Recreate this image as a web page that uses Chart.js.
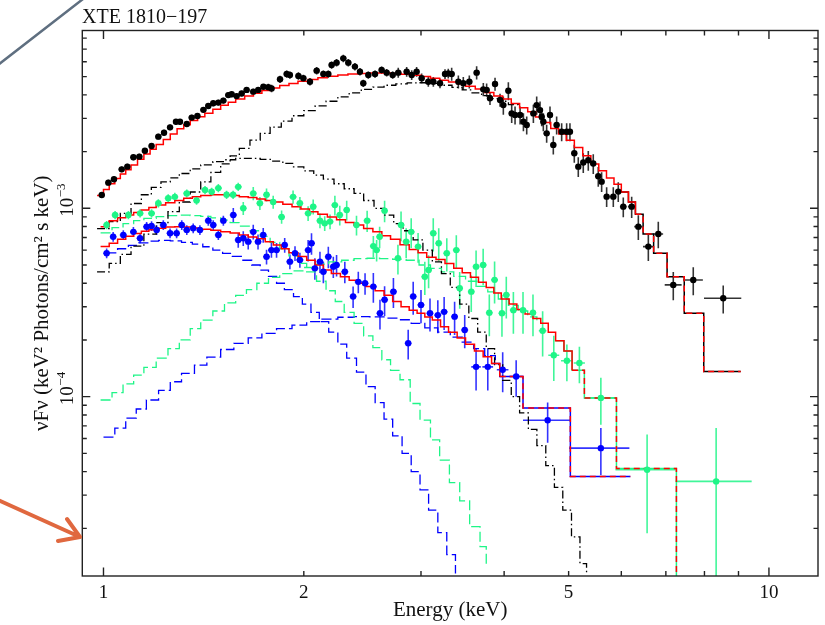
<!DOCTYPE html>
<html><head><meta charset="utf-8">
<script src="https://cdn.jsdelivr.net/npm/chart.js@4.4.1/dist/chart.umd.min.js"></script>
<style>html,body{margin:0;padding:0;background:#fff;}canvas{display:block;}</style>
</head><body>
<canvas id="c" width="825" height="625" style="width:825px;height:625px"></canvas>
<script>
// ---------------- data ----------------
const chartTitle = 'XTE 1810\u2212197';
const xTitle = 'Energy (keV)';
const yTitle = '\u03bdF\u03bd (keV\u00b2 Photons/cm\u00b2 s keV)';
const xTickValues = [1,2,3,4,5,6,7,8,9,10];
const xMajorValues = [1,10];
const xLabelValues = [1,2,5,10];
const xLabelTexts = ['1','2','5','10'];
const yTickValues = [2e-5,3e-5,4e-5,5e-5,6e-5,7e-5,8e-5,9e-5,1e-4,2e-4,3e-4,4e-4,5e-4,6e-4,7e-4,8e-4,9e-4,1e-3,2e-3,3e-3,4e-3,5e-3,6e-3,7e-3,8e-3];
const yMajorValues = [1e-4,1e-3];
const yLabelValues = [1e-4,1e-3];
const yLabelBase = '10';
const yLabelExps = ['\u22124','\u22123'];

// black data: energy, nuFnu, fractional error, energy half width
const blackE = [0.994,1.017,1.037,1.065,1.086,1.109,1.132,1.154,1.181,1.209,
1.233,1.259,1.285,1.303,1.334,1.357,1.384,1.413,1.437,1.462,
1.488,1.514,1.540,1.558,1.585,1.613,1.641,1.679,1.708,1.739,
1.769,1.789,1.842,1.885,1.906,1.963,1.997,2.043,2.091,2.140,
2.177,2.202,2.240,2.293,2.333,2.387,2.429,2.457,2.500,2.559,
2.618,2.664,2.720,
2.773,2.855,2.905,2.955,3.007,3.077,3.131,3.204,3.260,3.297,
3.336,3.414,3.473,3.546,3.637,3.722,3.765,3.809,3.876,3.944,
3.989,4.059,4.106,4.154,4.227,4.276,4.325,4.426,4.477,4.529,
4.555,4.581,4.634,4.688,4.742,4.797,4.881,4.966,5.023,5.099,
5.170,5.260,5.352,5.445,5.540,5.605,5.703,5.836,5.937,6.041,
6.219,6.364,6.588,6.819,7.182,7.696,8.537];
const blackF = [1.177e-3,1.368e-3,1.425e-3,1.61e-3,1.664e-3,1.865e-3,1.88e-3,2.02e-3,2.14e-3,2.40e-3,
2.52e-3,2.69e-3,2.88e-3,2.88e-3,2.80e-3,3.03e-3,3.09e-3,3.33e-3,3.49e-3,3.61e-3,
3.64e-3,3.73e-3,3.99e-3,4.03e-3,3.94e-3,4.07e-3,4.25e-3,4.16e-3,4.25e-3,4.42e-3,
4.39e-3,4.33e-3,4.84e-3,5.16e-3,5.10e-3,5.04e-3,4.90e-3,4.70e-3,5.38e-3,5.16e-3,
5.16e-3,5.76e-3,5.93e-3,6.25e-3,5.93e-3,5.65e-3,5.31e-3,4.61e-3,5.10e-3,5.16e-3,
5.42e-3,5.25e-3,5.10e-3,
5.25e-3,5.31e-3,5.10e-3,5.31e-3,4.90e-3,4.70e-3,4.70e-3,4.61e-3,5.16e-3,5.20e-3,
5.16e-3,4.70e-3,4.61e-3,4.70e-3,5.25e-3,4.28e-3,4.25e-3,3.84e-3,4.57e-3,3.76e-3,
3.53e-3,4.21e-3,3.19e-3,3.13e-3,3.13e-3,2.88e-3,2.77e-3,3.19e-3,3.53e-3,3.32e-3,
3.06e-3,2.88e-3,2.50e-3,3.13e-3,2.17e-3,2.77e-3,2.55e-3,2.55e-3,2.55e-3,1.96e-3,
1.664e-3,1.75e-3,1.80e-3,1.73e-3,1.48e-3,1.385e-3,1.153e-3,1.153e-3,1.226e-3,1.02e-3,
1.02e-3,7.99e-4,6.26e-4,7.31e-4,3.92e-4,4.16e-4,3.33e-4];
const blackErr = [0.035,0.035,0.035,0.035,0.035,0.035,0.035,0.035,0.035,0.035,
0.035,0.035,0.035,0.035,0.035,0.035,0.035,0.035,0.035,0.035,
0.035,0.035,0.035,0.035,0.035,0.035,0.035,0.035,0.035,0.035,
0.045,0.045,0.045,0.045,0.045,0.045,0.045,0.045,0.045,0.045,
0.045,0.045,0.045,0.045,0.045,0.045,0.045,0.045,0.045,0.045,
0.045,0.045,0.045,
0.06,0.06,0.06,0.06,0.06,0.06,0.06,0.06,0.06,0.06,
0.08,0.08,0.08,0.08,0.08,0.08,0.08,0.08,0.08,0.08,
0.11,0.11,0.11,0.11,0.11,0.11,0.11,0.11,0.11,0.11,
0.11,0.11,0.11,0.11,0.11,0.11,0.11,0.11,0.11,0.11,
0.12,0.12,0.12,0.12,0.12,0.12,0.12,0.12,0.12,0.12,
0.13,0.15,0.16,0.16,0.17,0.17,0.17];
const blackXErr = [0.011,0.011,0.011,0.011,0.011,0.012,0.012,0.012,0.012,0.013,
0.013,0.013,0.013,0.013,0.014,0.014,0.014,0.015,0.015,0.015,
0.015,0.016,0.016,0.016,0.016,0.017,0.017,0.017,0.018,0.018,
0.018,0.018,0.02,0.02,0.02,0.02,0.02,0.022,0.022,0.022,
0.022,0.023,0.023,0.024,0.024,0.025,0.025,0.025,0.026,0.026,
0.027,0.027,0.028,
0.03,0.03,0.03,0.03,0.03,0.032,0.032,0.032,0.033,0.034,
0.034,0.035,0.035,0.036,0.037,0.038,0.038,0.039,0.04,0.04,
0.04,0.041,0.042,0.042,0.043,0.044,0.044,0.045,0.046,0.046,
0.046,0.046,0.047,0.048,0.048,0.049,0.05,0.05,0.05,0.052,
0.045,0.045,0.045,0.05,0.05,0.05,0.055,0.06,0.06,0.07,
0.08,0.09,0.12,0.115,0.21,0.26,0.55];

const greenE = [1.011,1.041,1.09,1.135,1.181,1.209,1.251,1.28,1.334,1.38,
1.421,1.454,1.488,1.531,1.566,1.594,1.622,1.679,1.718,1.758,
1.799,1.852,1.927,1.973,2.03,2.066,2.115,2.15,2.19,2.227,
2.265,2.32,2.40,2.49,2.544,2.573,2.60,2.645,2.77,2.80,
2.85,2.90,2.97,3.04,3.08,3.13,3.19,3.28,3.39,3.43,
3.57,3.63,3.72,3.80,3.87,3.97,4.03,4.13,4.27,4.42,
4.57,4.75,4.97,5.19,5.59,6.56,8.33];
const greenF = [8.15e-4,9.22e-4,9.22e-4,9.4e-4,9.4e-4,1.063e-3,1.13e-3,1.15e-3,1.2e-3,1.1e-3,
1.25e-3,1.225e-3,1.28e-3,1.18e-3,1.18e-3,1.30e-3,1.0e-3,1.2e-3,1.063e-3,1.18e-3,
1.08e-3,9.0e-4,1.15e-3,1.063e-3,9.4e-4,1.02e-3,8.6e-4,8.32e-4,8.5e-4,1.04e-3,
9.22e-4,9.8e-4,8.15e-4,8.6e-4,6.3e-4,6.0e-4,7.06e-4,9.7e-4,5.43e-4,8.15e-4,
6.65e-4,7.5e-4,6.26e-4,4.33e-4,4.7e-4,7.37e-4,6.52e-4,5.77e-4,6.0e-4,3.76e-4,
3.61e-4,4.9e-4,5.0e-4,2.79e-4,4.17e-4,2.77e-4,3.47e-4,2.88e-4,2.88e-4,2.79e-4,
2.24e-4,1.66e-4,1.55e-4,1.51e-4,9.85e-5,4.09e-5,3.55e-5];
const greenErr = [0.05,0.05,0.05,0.05,0.05,0.05,0.05,0.05,0.05,0.05,
0.05,0.05,0.05,0.05,0.05,0.05,0.08,0.08,0.08,0.08,
0.08,0.08,0.08,0.08,0.09,0.09,0.09,0.09,0.09,0.12,
0.12,0.12,0.12,0.13,0.13,0.13,0.13,0.13,0.18,0.18,
0.18,0.18,0.18,0.2,0.2,0.2,0.2,0.2,0.2,0.22,
0.22,0.22,0.22,0.25,0.25,0.25,0.25,0.25,0.25,0.25,
0.27,0.27,0.22,0.22,0.28,0.54,0.92];
const greenXErr = [0.012,0.012,0.013,0.013,0.014,0.014,0.015,0.015,0.016,0.016,
0.017,0.017,0.018,0.018,0.019,0.019,0.019,0.02,0.02,0.021,
0.021,0.022,0.023,0.023,0.024,0.024,0.025,0.025,0.026,0.026,
0.027,0.027,0.028,0.03,0.03,0.03,0.03,0.03,0.033,0.033,
0.034,0.034,0.035,0.036,0.036,0.037,0.038,0.039,0.04,0.04,
0.042,0.043,0.044,0.045,0.046,0.047,0.048,0.05,0.05,0.05,
0.06,0.09,0.1,0.1,0.31,0.68,1.09];

const blueE = [1.011,1.034,1.071,1.109,1.135,1.161,1.181,1.202,1.23,1.259,
1.288,1.311,1.334,1.364,1.396,1.437,1.462,1.488,1.514,1.567,
1.594,1.622,1.65,1.679,1.707,1.738,1.758,1.788,1.82,1.872,
1.906,1.94,1.973,2.03,2.054,2.078,2.115,2.14,2.177,2.215,
2.24,2.305,2.372,2.415,2.472,2.544,2.603,2.645,2.727,2.87,
2.92,3.0,3.095,3.18,3.25,3.37,3.49,3.63,3.78,3.98,
4.17,4.65,5.59];
const blueF = [5.77e-4,7.06e-4,7.22e-4,7.5e-4,6.93e-4,7.98e-4,8.05e-4,7.67e-4,8.15e-4,7.37e-4,
7.37e-4,8.15e-4,7.67e-4,7.83e-4,7.67e-4,8.6e-4,8.15e-4,7.22e-4,8.6e-4,9.22e-4,
6.79e-4,6.93e-4,6.65e-4,7.5e-4,6.65e-4,7.22e-4,5.53e-4,6.0e-4,6.0e-4,6.38e-4,
5.21e-4,5.77e-4,5.32e-4,6.0e-4,6.52e-4,4.8e-4,5.21e-4,4.6e-4,5.53e-4,4.9e-4,
5.0e-4,4.6e-4,3.4e-4,4.07e-4,4.0e-4,3.84e-4,2.77e-4,3.27e-4,3.61e-4,1.92e-4,
3.4e-4,3.07e-4,2.77e-4,2.71e-4,2.82e-4,2.66e-4,2.26e-4,1.44e-4,1.44e-4,1.39e-4,
1.28e-4,7.5e-5,5.33e-5];
const blueErr = [0.06,0.06,0.06,0.06,0.06,0.06,0.06,0.06,0.06,0.06,
0.06,0.06,0.06,0.06,0.06,0.06,0.06,0.06,0.06,0.09,
0.09,0.09,0.09,0.09,0.09,0.09,0.09,0.09,0.09,0.09,
0.09,0.09,0.09,0.13,0.13,0.13,0.13,0.13,0.13,0.13,
0.13,0.13,0.13,0.13,0.13,0.18,0.18,0.18,0.18,0.18,
0.2,0.2,0.2,0.2,0.2,0.2,0.2,0.25,0.25,0.24,
0.22,0.24,0.28];
const blueXErr = [0.012,0.012,0.013,0.013,0.014,0.014,0.014,0.014,0.015,0.015,
0.015,0.016,0.016,0.016,0.017,0.017,0.017,0.018,0.018,0.019,
0.019,0.019,0.02,0.02,0.02,0.021,0.021,0.021,0.022,0.022,
0.023,0.023,0.024,0.024,0.025,0.025,0.025,0.026,0.026,0.027,
0.027,0.028,0.028,0.029,0.03,0.03,0.031,0.032,0.033,0.034,
0.035,0.036,0.037,0.038,0.039,0.04,0.042,0.06,0.07,0.08,
0.1,0.38,0.58];

// model step histograms (bin left edge, value)
const bkTotE = [0.978,1.0,1.02,1.04,1.06,1.08,1.10,1.125,1.15,1.175,1.20,1.23,1.26,1.29,1.32,1.35,1.385,1.42,1.46,1.50,1.54,1.58,1.63,1.68,1.73,1.78,1.84,1.90,1.96,2.03,2.10,2.17,2.25,2.33,2.42,2.51,2.60,2.70,2.80,2.90,3.00,3.10,3.20,3.30,3.40,3.50,3.62,3.74,3.86,3.98,4.10,4.22,4.34,4.46,4.58,4.70,4.83,4.96,5.10,5.25,5.40,5.55,5.70,5.85,6.00,6.15,6.30,6.47,6.71,7.03,7.46,7.98,9.07];
const bkTotV = [1.17e-3,1.26e-3,1.35e-3,1.44e-3,1.52e-3,1.6e-3,1.70e-3,1.82e-3,1.94e-3,2.06e-3,2.18e-3,2.32e-3,2.48e-3,2.64e-3,2.78e-3,2.92e-3,3.06e-3,3.2e-3,3.36e-3,3.52e-3,3.66e-3,3.8e-3,3.95e-3,4.08e-3,4.22e-3,4.35e-3,4.48e-3,4.6e-3,4.72e-3,4.83e-3,4.93e-3,5.02e-3,5.1e-3,5.16e-3,5.2e-3,5.22e-3,5.22e-3,5.2e-3,5.15e-3,5.08e-3,5.0e-3,4.9e-3,4.78e-3,4.68e-3,4.58e-3,4.45e-3,4.3e-3,4.12e-3,3.95e-3,3.8e-3,3.6e-3,3.42e-3,3.25e-3,3.05e-3,2.85e-3,2.65e-3,2.48e-3,2.3e-3,2.1e-3,1.9e-3,1.72e-3,1.58e-3,1.45e-3,1.34e-3,1.22e-3,1.08e-3,9.3e-4,7.3e-4,5.77e-4,4.33e-4,2.77e-4,1.36e-4,1.36e-4];
const bkModE = [6.00,6.15,6.30,6.47,6.71,7.03,7.46,7.98,9.07];
const bkModV = [1.22e-3,1.08e-3,9.3e-4,7.3e-4,5.77e-4,4.33e-4,2.77e-4,1.36e-4,1.36e-4];

const grTotE = [0.99,1.02,1.05,1.08,1.11,1.14,1.17,1.20,1.24,1.28,1.32,1.36,1.40,1.45,1.50,1.55,1.60,1.65,1.70,1.75,1.80,1.86,1.92,1.98,2.04,2.10,2.17,2.24,2.31,2.38,2.46,2.54,2.62,2.70,2.79,2.88,2.97,3.06,3.16,3.26,3.36,3.46,3.56,3.66,3.76,3.86,3.96,4.07,4.18,4.30,4.42,4.54,4.66,4.78,4.92,5.06,5.28,5.90,7.26,9.44];
const grTotV = [7.98e-4,8.6e-4,8.9e-4,9.2e-4,9.5e-4,9.8e-4,1.01e-3,1.04e-3,1.07e-3,1.1e-3,1.13e-3,1.15e-3,1.17e-3,1.18e-3,1.18e-3,1.17e-3,1.15e-3,1.14e-3,1.12e-3,1.1e-3,1.08e-3,1.05e-3,1.02e-3,9.9e-4,9.6e-4,9.3e-4,9.0e-4,8.7e-4,8.4e-4,8.15e-4,7.8e-4,7.5e-4,7.15e-4,6.85e-4,6.4e-4,6.05e-4,5.8e-4,5.5e-4,5.35e-4,5.1e-4,4.8e-4,4.55e-4,4.3e-4,4.05e-4,3.8e-4,3.55e-4,3.3e-4,3.1e-4,2.9e-4,2.75e-4,2.6e-4,2.45e-4,2.2e-4,1.98e-4,1.75e-4,1.38e-4,9.85e-5,4.15e-5,5e-6,5e-6];
const grModE = [4.78,4.92,5.06,5.28,5.90,7.26,9.44];
const grModV = [1.98e-4,1.75e-4,1.38e-4,9.85e-5,4.15e-5,5e-6,5e-6];

const blTotE = [0.99,1.02,1.05,1.08,1.11,1.14,1.17,1.20,1.24,1.28,1.32,1.36,1.40,1.45,1.50,1.55,1.60,1.65,1.70,1.75,1.80,1.85,1.90,1.96,2.02,2.08,2.14,2.20,2.27,2.34,2.41,2.48,2.56,2.64,2.72,2.80,2.88,2.96,3.04,3.12,3.21,3.30,3.40,3.50,3.61,3.72,3.83,3.94,4.27,5.03,6.19];
const blTotV = [6.26e-4,6.52e-4,6.85e-4,7.1e-4,7.35e-4,7.55e-4,7.7e-4,7.83e-4,7.95e-4,7.98e-4,7.95e-4,7.85e-4,7.75e-4,7.65e-4,7.5e-4,7.4e-4,7.22e-4,7.05e-4,6.9e-4,6.65e-4,6.38e-4,6.1e-4,5.8e-4,5.55e-4,5.3e-4,5.0e-4,4.7e-4,4.5e-4,4.33e-4,4.15e-4,4.0e-4,3.85e-4,3.65e-4,3.45e-4,3.2e-4,3.0e-4,2.88e-4,2.77e-4,2.65e-4,2.55e-4,2.35e-4,2.2e-4,2.05e-4,1.9e-4,1.75e-4,1.63e-4,1.5e-4,1.28e-4,8.7e-5,3.77e-5,3.77e-5];
const blModE = [3.83,3.94,4.27,5.03,6.19];
const blModV = [1.5e-4,1.28e-4,8.7e-5,3.77e-5,3.77e-5];

// model components
const bkCompAE = [0.978,1.02,1.06,1.10,1.14,1.18,1.22,1.26,1.30,1.35,1.40,1.46,1.52,1.58,1.65,1.72,1.79,1.86,1.93,2.00,2.07,2.14,2.22,2.30,2.38,2.46,2.55,2.64,2.73,2.82,2.92,3.02,3.12,3.22,3.32,3.43,3.54,3.65,3.76,3.87,3.98,4.10,4.22,4.35,4.48,4.62,4.76,4.90,5.05,5.20,5.32];
const bkCompAV = [7.8e-4,8.5e-4,9.4e-4,1.06e-3,1.18e-3,1.29e-3,1.38e-3,1.45e-3,1.53e-3,1.62e-3,1.70e-3,1.77e-3,1.81e-3,1.84e-3,1.84e-3,1.82e-3,1.78e-3,1.73e-3,1.66e-3,1.58e-3,1.5e-3,1.43e-3,1.35e-3,1.27e-3,1.2e-3,1.1e-3,1.0e-3,9.2e-4,8.3e-4,7.6e-4,6.8e-4,6.0e-4,5.2e-4,4.5e-4,3.8e-4,3.1e-4,2.6e-4,2.2e-4,1.8e-4,1.48e-4,1.22e-4,1.0e-4,8.2e-5,6.7e-5,5.5e-5,4.3e-5,3.3e-5,2.5e-5,1.8e-5,1.3e-5,1.15e-5];
const bkCompBE = [0.978,1.02,1.06,1.10,1.15,1.20,1.25,1.30,1.35,1.40,1.45,1.50,1.55,1.60,1.66,1.72,1.78,1.85,1.92,2.00,2.08,2.16,2.25,2.34,2.44,2.54,2.64,2.75,2.86,2.98,3.10,3.22,3.34,3.46,3.58,3.70,3.82,3.94,4.06,4.20];
const bkCompBV = [4.6e-4,5.1e-4,5.7e-4,6.3e-4,7.3e-4,8.4e-4,9.6e-4,1.08e-3,1.22e-3,1.38e-3,1.55e-3,1.72e-3,1.9e-3,2.08e-3,2.3e-3,2.5e-3,2.7e-3,2.9e-3,3.1e-3,3.3e-3,3.5e-3,3.7e-3,3.9e-3,4.1e-3,4.28e-3,4.4e-3,4.5e-3,4.58e-3,4.63e-3,4.64e-3,4.6e-3,4.5e-3,4.38e-3,4.25e-3,4.1e-3,3.96e-3,3.82e-3,3.7e-3,3.55e-3,3.42e-3];
const grCoolE = [0.99,1.03,1.07,1.11,1.15,1.20,1.25,1.30,1.35,1.40,1.45,1.50,1.55,1.60,1.66,1.72,1.78,1.84,1.90,1.96,2.02,2.09,2.16,2.23,2.30,2.38,2.46,2.54,2.62,2.70,2.79,2.89,2.99,3.10,3.20,3.31,3.43,3.55,3.68,3.76];
const grCoolV = [7.4e-4,7.9e-4,8.3e-4,8.6e-4,8.85e-4,9.03e-4,9.15e-4,9.2e-4,9.15e-4,9.05e-4,8.9e-4,8.65e-4,8.4e-4,8.05e-4,7.6e-4,7.1e-4,6.6e-4,6.1e-4,5.6e-4,5.1e-4,4.6e-4,4.1e-4,3.65e-4,3.2e-4,2.8e-4,2.45e-4,2.1e-4,1.82e-4,1.57e-4,1.38e-4,1.23e-4,9.2e-5,7.5e-5,5.9e-5,4.6e-5,3.5e-5,2.8e-5,2.04e-5,1.6e-5,1.25e-5];
const grHotE = [0.99,1.03,1.07,1.11,1.15,1.20,1.25,1.30,1.35,1.40,1.46,1.52,1.58,1.64,1.70,1.77,1.84,1.92,2.00,2.09,2.18,2.28,2.38,2.49,2.60,2.72,2.85,2.98,3.10,3.22,3.36,3.50,3.64,3.78,3.92,4.06,4.20,4.34,4.48];
const grHotV = [9.6e-5,1.05e-4,1.17e-4,1.3e-4,1.43e-4,1.6e-4,1.8e-4,2.0e-4,2.3e-4,2.55e-4,2.85e-4,3.15e-4,3.45e-4,3.7e-4,4.0e-4,4.3e-4,4.5e-4,4.65e-4,4.85e-4,5.05e-4,5.2e-4,5.3e-4,5.4e-4,5.43e-4,5.4e-4,5.35e-4,5.3e-4,5.0e-4,4.8e-4,4.6e-4,4.35e-4,4.1e-4,3.85e-4,3.6e-4,3.3e-4,3.05e-4,2.85e-4,2.65e-4,2.45e-4];
const blCoolE = [1.01,1.05,1.09,1.13,1.17,1.21,1.26,1.31,1.36,1.41,1.46,1.51,1.56,1.62,1.67,1.72,1.77,1.82,1.87,1.93,1.99,2.05,2.11,2.18,2.25,2.32,2.40,2.48,2.56,2.64,2.72,2.81,2.90,2.99,3.08,3.18,3.28,3.38];
const blCoolV = [5.8e-4,6.1e-4,6.35e-4,6.55e-4,6.7e-4,6.75e-4,6.72e-4,6.6e-4,6.45e-4,6.25e-4,6.0e-4,5.77e-4,5.55e-4,5.3e-4,5.0e-4,4.7e-4,4.35e-4,4.0e-4,3.7e-4,3.4e-4,3.1e-4,2.8e-4,2.5e-4,2.2e-4,1.9e-4,1.6e-4,1.35e-4,1.13e-4,9.3e-5,7.6e-5,6.2e-5,5.0e-5,4.0e-5,3.2e-5,2.5e-5,1.9e-5,1.45e-5,1.15e-5];
const blHotE = [1.00,1.04,1.08,1.12,1.16,1.21,1.26,1.31,1.37,1.43,1.50,1.57,1.65,1.73,1.82,1.92,2.02,2.13,2.25,2.38,2.51,2.64,2.77,2.90,3.04,3.18,3.32,3.46,3.60,3.74,3.88];
const blHotV = [6.1e-5,6.8e-5,7.7e-5,8.6e-5,9.6e-5,1.08e-4,1.2e-4,1.33e-4,1.47e-4,1.62e-4,1.78e-4,1.92e-4,2.05e-4,2.17e-4,2.3e-4,2.4e-4,2.5e-4,2.58e-4,2.64e-4,2.66e-4,2.65e-4,2.61e-4,2.56e-4,2.45e-4,2.32e-4,2.2e-4,2.07e-4,1.95e-4,1.8e-4,1.65e-4,1.5e-4];

// ---------------- styling ----------------
const BLACK = '#000000', GREEN = 'rgb(30,245,135)', BLUE = '#0000ff', RED = '#ff0000';
const FONT = "'Liberation Serif', 'DejaVu Serif', serif";
const AREA = {left: 82.3, right: 818, top: 30.5, bottom: 576};

function pts(E, V) { return E.map((e, i) => ({x: e, y: V[i]})); }
function points(E, V, color) {
  return {data: pts(E, V), showLine: false, pointRadius: 3.2, pointHoverRadius: 3.2,
    pointBackgroundColor: color, pointBorderWidth: 0, borderColor: color, order: 0};
}
function steps(E, V, color, width, dash, order, dashFrom) {
  const ds = {data: pts(E, V), showLine: true, stepped: 'before', pointRadius: 0, pointHoverRadius: 0,
    borderColor: color, borderWidth: width, borderDash: dash || [], fill: false, order: order};
  if (dashFrom !== undefined) {
    ds.segment = {borderDash: c => (c.p0.parsed.x >= dashFrom ? [6, 4] : undefined)};
  }
  return ds;
}
const DASH = [10, 4];
const DASHDOT = [8, 3, 1.5, 3];

const errSeries = [
  {E: blackE, F: blackF, err: blackErr, xerr: blackXErr, color: 'rgba(0,0,0,0.8)'},
  {E: greenE, F: greenF, err: greenErr, xerr: greenXErr, color: 'rgba(30,245,135,0.85)'},
  {E: blueE, F: blueF, err: blueErr, xerr: blueXErr, color: 'rgba(0,0,255,0.8)'}
];

const deco = {
  id: 'deco',
  beforeDatasetsDraw(chart) {
    const {ctx, chartArea: a} = chart; const xs = chart.scales.x, ys = chart.scales.y;
    ctx.save();
    ctx.beginPath(); ctx.rect(a.left, a.top, a.right - a.left, a.bottom - a.top); ctx.clip();
    ctx.lineWidth = 1.6;
    for (const s of errSeries) {
      ctx.strokeStyle = s.color; ctx.beginPath();
      for (let i = 0; i < s.E.length; i++) {
        const px = xs.getPixelForValue(s.E[i]), py = ys.getPixelForValue(s.F[i]);
        const hi = s.F[i] * (1 + s.err[i]), lo = s.F[i] * (1 - s.err[i]);
        const pyHi = ys.getPixelForValue(hi);
        const pyLo = lo > 0 ? ys.getPixelForValue(lo) : a.bottom + 5;
        ctx.moveTo(px, pyHi); ctx.lineTo(px, pyLo);
        ctx.moveTo(xs.getPixelForValue(s.E[i] - s.xerr[i]), py);
        ctx.lineTo(xs.getPixelForValue(s.E[i] + s.xerr[i]), py);
      }
      ctx.stroke();
    }
    ctx.restore();
  },
  afterDraw(chart) {
    const {ctx, chartArea: a} = chart; const xs = chart.scales.x, ys = chart.scales.y;
    ctx.save();
    // frame
    ctx.strokeStyle = '#222'; ctx.lineWidth = 1.4;
    ctx.strokeRect(a.left, a.top, a.right - a.left, a.bottom - a.top);
    // ticks
    ctx.beginPath();
    for (const t of xs.ticks) {
      const px = xs.getPixelForValue(t.value);
      const len = xMajorValues.includes(t.value) ? 8.5 : 5;
      ctx.moveTo(px, a.bottom); ctx.lineTo(px, a.bottom - len);
      ctx.moveTo(px, a.top); ctx.lineTo(px, a.top + len);
    }
    for (const t of ys.ticks) {
      const py = ys.getPixelForValue(t.value);
      const len = yMajorValues.includes(t.value) ? 8 : 4.5;
      ctx.moveTo(a.left, py); ctx.lineTo(a.left + len, py);
      ctx.moveTo(a.right, py); ctx.lineTo(a.right - len, py);
    }
    ctx.stroke();
    // tick labels
    ctx.fillStyle = '#111';
    ctx.font = '19px ' + FONT; ctx.textAlign = 'center'; ctx.textBaseline = 'alphabetic';
    xLabelValues.forEach((v, i) => ctx.fillText(xLabelTexts[i], xs.getPixelForValue(v), 598));
    yLabelValues.forEach((v, i) => {
      const py = ys.getPixelForValue(v);
      ctx.save(); ctx.translate(72.5, py); ctx.rotate(-Math.PI / 2);
      ctx.font = '19px ' + FONT; ctx.textAlign = 'left';
      const w10 = ctx.measureText(yLabelBase).width;
      ctx.fillText(yLabelBase, -w10 / 2 + 1, 0);
      ctx.font = '13px ' + FONT;
      ctx.fillText(yLabelExps[i], w10 / 2 + 1.5, -8);
      ctx.restore();
    });
    // title
    ctx.font = '20px ' + FONT; ctx.textAlign = 'left'; ctx.fillStyle = '#111';
    ctx.fillText(chartTitle, 82, 23);
    // slide annotations
    ctx.strokeStyle = '#5f6f80'; ctx.lineWidth = 2.5; ctx.lineCap = 'round';
    ctx.beginPath(); ctx.moveTo(-2, 65); ctx.lineTo(83, -1); ctx.stroke();
    ctx.strokeStyle = '#e0683f'; ctx.lineWidth = 4;
    ctx.beginPath(); ctx.moveTo(-2, 500); ctx.lineTo(80, 537);
    ctx.moveTo(80, 537); ctx.lineTo(67, 519);
    ctx.moveTo(80, 537); ctx.lineTo(58, 541); ctx.stroke();
    ctx.restore();
  }
};

new Chart(document.getElementById('c'), {
  type: 'scatter',
  data: {datasets: [
    points(blackE, blackF, BLACK),
    points(greenE, greenF, GREEN),
    points(blueE, blueF, BLUE),
    steps(bkTotE, bkTotV, RED, 1.5, [], 1, 6.3),
    steps(grTotE, grTotV, RED, 1.5, [], 1, 5.06),
    steps(blTotE, blTotV, RED, 1.5, [], 1, 3.94),
    steps(bkModE, bkModV, BLACK, 1.5, [], 2),
    steps(grModE, grModV, GREEN, 1.5, [], 2),
    steps(blModE, blModV, BLUE, 1.5, [], 2),
    steps(bkCompAE, bkCompAV, BLACK, 1.3, DASHDOT, 3),
    steps(bkCompBE, bkCompBV, BLACK, 1.3, DASHDOT, 3),
    steps(grCoolE, grCoolV, GREEN, 1.3, DASH, 3),
    steps(grHotE, grHotV, GREEN, 1.3, DASH, 3),
    steps(blCoolE, blCoolV, BLUE, 1.3, DASH, 3),
    steps(blHotE, blHotV, BLUE, 1.3, DASH, 3)
  ]},
  options: {
    responsive: false, devicePixelRatio: 1, animation: false,
    layout: {padding: {left: 0, right: 825 - AREA.right, top: AREA.top, bottom: 0}},
    plugins: {legend: {display: false}, tooltip: {enabled: false}, title: {display: false}},
    scales: {
      x: {type: 'logarithmic', min: 0.9293, max: 11.85, position: 'bottom',
        grid: {display: false}, border: {display: false}, ticks: {display: false},
        afterBuildTicks: s => { s.ticks = xTickValues.map(v => ({value: v})); },
        afterFit: s => { s.height = 625 - AREA.bottom; },
        title: {display: true, text: xTitle, color: '#111', font: {family: FONT, size: 21}, padding: {top: 0, bottom: 2}}},
      y: {type: 'logarithmic', min: 1.117e-5, max: 8.786e-3, position: 'left',
        grid: {display: false}, border: {display: false}, ticks: {display: false},
        afterBuildTicks: s => { s.ticks = yTickValues.map(v => ({value: v})); },
        afterFit: s => { s.width = AREA.left; },
        title: {display: true, text: yTitle, color: '#111', font: {family: FONT, size: 21}, padding: {top: 30, bottom: 0}}}
    }
  },
  plugins: [deco]
});
</script>
</body></html>
